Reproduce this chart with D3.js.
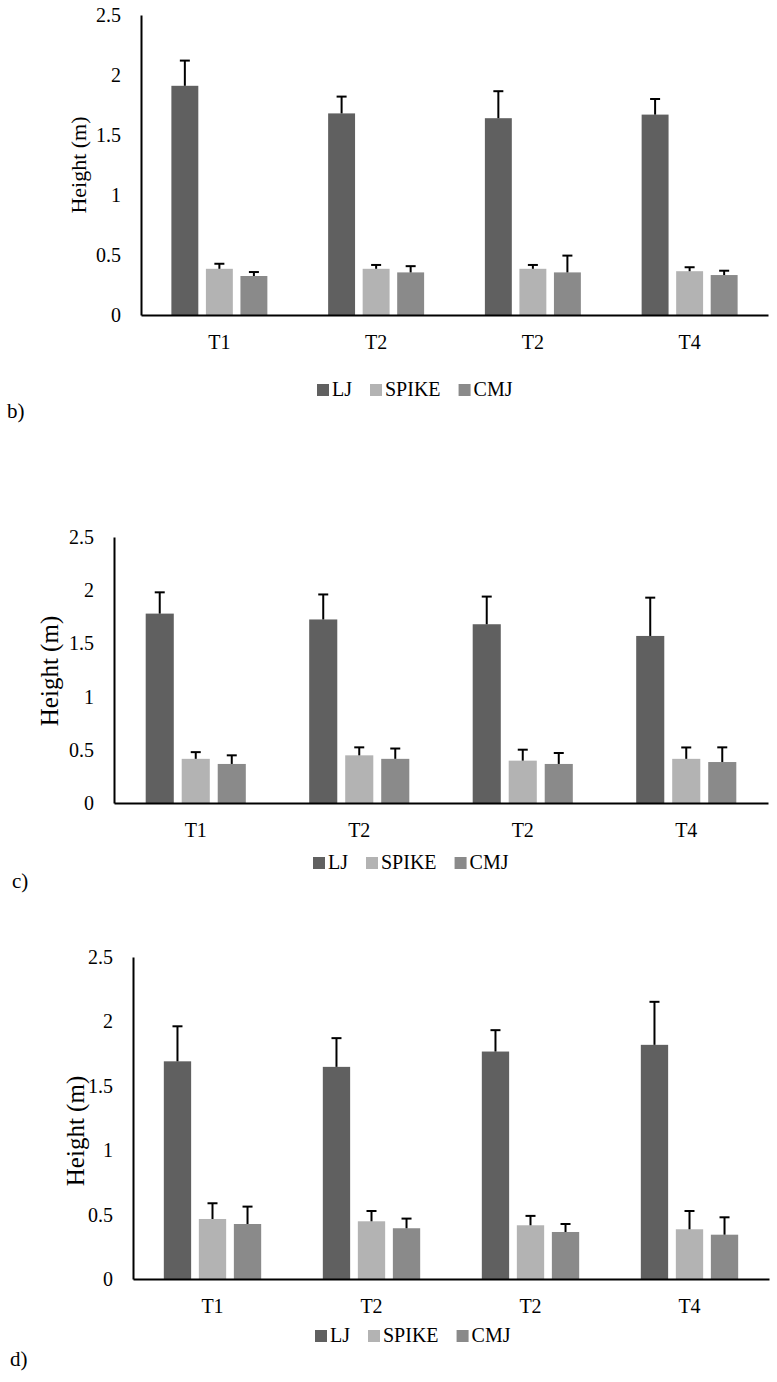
<!DOCTYPE html>
<html>
<head>
<meta charset="utf-8">
<script src="https://cdn.jsdelivr.net/npm/d3@7"></script>
<style>
  body { margin: 0; background: #fff; }
  svg { display: block; }
  text { font-family: "Liberation Serif", "Times New Roman", serif; fill: #000; }
</style>
</head>
<body>
<div id="chart"></div>
<script>
// Data
var categories = ["T1", "T2", "T2", "T4"];
var seriesNames = ["LJ", "SPIKE", "CMJ"];
var yTicks = [0, 0.5, 1, 1.5, 2, 2.5];
var colors = ["#606060", "#b3b3b3", "#8a8a8a"];

// panel b)
var bLJ = [1.91, 1.68, 1.64, 1.67];
var bLJErr = [0.21, 0.14, 0.225, 0.13];
var bSPIKE = [0.385, 0.385, 0.385, 0.365];
var bSPIKEErr = [0.042, 0.032, 0.032, 0.033];
var bCMJ = [0.325, 0.355, 0.355, 0.333];
var bCMJErr = [0.033, 0.052, 0.14, 0.036];

// panel c)
var cLJ = [1.78, 1.725, 1.68, 1.57];
var cLJErr = [0.2, 0.235, 0.26, 0.36];
var cSPIKE = [0.415, 0.448, 0.398, 0.415];
var cSPIKEErr = [0.063, 0.075, 0.103, 0.107];
var cCMJ = [0.367, 0.415, 0.367, 0.385];
var cCMJErr = [0.081, 0.097, 0.103, 0.138];

// panel d)
var dLJ = [1.69, 1.647, 1.766, 1.818];
var dLJErr = [0.272, 0.223, 0.166, 0.334];
var dSPIKE = [0.466, 0.448, 0.417, 0.386];
var dSPIKEErr = [0.122, 0.08, 0.073, 0.142];
var dCMJ = [0.427, 0.394, 0.365, 0.344];
var dCMJErr = [0.135, 0.075, 0.062, 0.135];

var width = 777;
var height = 1382;

var panels = [
  { letter: "b)", means: [bLJ, bSPIKE, bCMJ], errs: [bLJErr, bSPIKEErr, bCMJErr],
    left: 141, right: 768, top: 15, bottom: 315, titleSize: 22, titleX: 78, titleY: 165,
    xLabelY: 349, legendX: 317, legendY: 396, letterX: 7, letterY: 418 },
  { letter: "c)", means: [cLJ, cSPIKE, cCMJ], errs: [cLJErr, cSPIKEErr, cCMJErr],
    left: 114, right: 768, top: 537, bottom: 803, titleSize: 25, titleX: 49, titleY: 671,
    xLabelY: 837, legendX: 313, legendY: 869, letterX: 12, letterY: 888 },
  { letter: "d)", means: [dLJ, dSPIKE, dCMJ], errs: [dLJErr, dSPIKEErr, dCMJErr],
    left: 133, right: 769, top: 957, bottom: 1279, titleSize: 25, titleX: 75, titleY: 1131,
    xLabelY: 1313, legendX: 315, legendY: 1342, letterX: 10, letterY: 1366 }
];

var svg = d3.select("#chart").append("svg")
  .attr("width", width)
  .attr("height", height);

panels.forEach(function (p) {
  var g = svg.append("g");

  var x0 = d3.scaleBand()
    .domain(d3.range(categories.length))
    .range([p.left, p.right])
    .padding(0);

  var x1 = d3.scaleBand()
    .domain(seriesNames)
    .range([0, x0.bandwidth()])
    .paddingInner(0.22)
    .paddingOuter(0.88);

  var y = d3.scaleLinear()
    .domain([0, 2.5])
    .range([p.bottom, p.top]);

  // rows of bars
  var rows = [];
  categories.forEach(function (c, i) {
    seriesNames.forEach(function (s, j) {
      rows.push({ cat: i, series: s, idx: j, value: p.means[j][i], err: p.errs[j][i] });
    });
  });

  g.selectAll("rect.bar")
    .data(rows).enter()
    .append("rect")
    .attr("class", "bar")
    .attr("x", d => x0(d.cat) + x1(d.series))
    .attr("y", d => y(d.value))
    .attr("width", x1.bandwidth())
    .attr("height", d => y(0) - y(d.value))
    .style("fill", d => colors[d.idx]);

  // error bars (upper only)
  var errG = g.selectAll("g.err")
    .data(rows).enter()
    .append("g")
    .attr("class", "err")
    .attr("transform", d => `translate(${x0(d.cat) + x1(d.series) + x1.bandwidth() / 2}, 0)`);

  errG.append("line")
    .attr("x1", 0).attr("x2", 0)
    .attr("y1", d => y(d.value))
    .attr("y2", d => y(d.value + d.err))
    .style("stroke", "#000")
    .style("stroke-width", 2);

  errG.append("line")
    .attr("x1", -5).attr("x2", 5)
    .attr("y1", d => y(d.value + d.err))
    .attr("y2", d => y(d.value + d.err))
    .style("stroke", "#000")
    .style("stroke-width", 2);

  // y axis
  var yAxis = d3.axisLeft(y)
    .tickValues(yTicks)
    .tickSize(0)
    .tickPadding(20)
    .tickFormat(d3.format("~g"));

  var yAxisGroup = g.append("g")
    .attr("transform", `translate(${p.left}, 0)`)
    .call(yAxis);
  yAxisGroup.select(".domain").style("stroke", "#000").style("stroke-width", 2);
  yAxisGroup.selectAll("text")
    .style("font-size", "20px")
    .style("font-family", "Liberation Serif, serif");

  // x axis
  var xAxis = d3.axisBottom(x0)
    .tickSize(0)
    .tickFormat(i => categories[i]);

  var xAxisGroup = g.append("g")
    .attr("transform", `translate(0, ${p.bottom})`)
    .call(xAxis);
  xAxisGroup.select(".domain").style("stroke", "#000").style("stroke-width", 2);
  xAxisGroup.selectAll("text")
    .attr("y", p.xLabelY - p.bottom)
    .attr("dy", 0)
    .style("font-size", "20px")
    .style("font-family", "Liberation Serif, serif");

  // y title
  g.append("text")
    .attr("transform", `translate(${p.titleX}, ${p.titleY}) rotate(-90)`)
    .attr("text-anchor", "middle")
    .attr("dy", "0.35em")
    .style("font-size", p.titleSize + "px")
    .text("Height (m)");

  // legend
  var lx = p.legendX;
  seriesNames.forEach(function (s, j) {
    g.append("rect")
      .attr("x", lx)
      .attr("y", p.legendY - 12)
      .attr("width", 12)
      .attr("height", 12)
      .style("fill", colors[j]);
    var t = g.append("text")
      .attr("x", lx + 15)
      .attr("y", p.legendY)
      .style("font-size", "20px")
      .text(s);
    lx = lx + 15 + t.node().getComputedTextLength() + 18;
  });

  // panel letter
  g.append("text")
    .attr("x", p.letterX)
    .attr("y", p.letterY)
    .style("font-size", "21px")
    .text(p.letter);
});
</script>
</body>
</html>
